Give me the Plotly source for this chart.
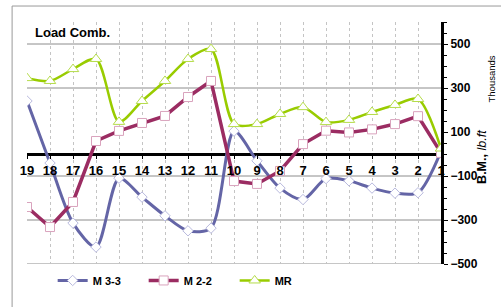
import plotly.graph_objects as go

# ---- data (values in thousands of lb.ft) ----
categories = ["19", "18", "17", "16", "15", "14", "13", "12", "11", "10",
              "9", "8", "7", "6", "5", "4", "3", "2", "1"]
m33 = [241, -41, -314, -423, -110, -196, -281, -349, -337, 104,
       -31, -155, -207, -112, -122, -155, -178, -176, 12]
m22 = [-241, -332, -218, 59, 105, 141, 173, 259, 332, -123,
       -136, -77, 45, 106, 98, 112, 136, 172, 5]
mr = [345, 332, 386, 432, 146, 241, 332, 432, 477, 136,
      136, 182, 213, 145, 155, 191, 223, 250, 25]

y_ticks = [-500, -300, -100, 100, 300, 500]
grid_values = [500, 300, -100, -300, -500]
y_range = [-500, 600]

FONT = "Liberation Sans, Arial, sans-serif"
xs = list(range(len(categories)))

fig = go.Figure()
fig.add_trace(go.Scatter(
    x=xs, y=m33, name="M 3-3", mode="lines+markers",
    line=dict(color="#6465a6", width=3, shape="spline", smoothing=0.8),
    marker=dict(symbol="diamond", size=8, color="white",
                line=dict(color="#b9bade", width=1)),
))
fig.add_trace(go.Scatter(
    x=xs, y=m22, name="M 2-2", mode="lines+markers",
    line=dict(color="#9b2c62", width=3.5),
    marker=dict(symbol="square", size=9, color="white",
                line=dict(color="#d9a3bd", width=1)),
))
fig.add_trace(go.Scatter(
    x=xs, y=mr, name="MR", mode="lines+markers",
    line=dict(color="#99cc00", width=2.5, shape="spline", smoothing=0.8),
    marker=dict(symbol="triangle-up", size=10, color="white",
                line=dict(color="#b5dc4a", width=1)),
))

shapes = []
for g in grid_values:
    shapes.append(dict(type="line", xref="paper", yref="y", x0=0, x1=1,
                       y0=g, y1=g, line=dict(color="#8c8c8c", width=1),
                       layer="below"))
# outer frame
shapes.append(dict(type="rect", xref="paper", yref="paper",
                   x0=-0.036, x1=1.3, y0=-0.3, y1=1.066,
                   line=dict(color="#999999", width=1), layer="below"))

zero_pos = (0 - y_range[0]) / (y_range[1] - y_range[0])

fig.update_layout(
    width=501, height=307,
    margin=dict(l=27, r=60, t=22, b=42.5),
    paper_bgcolor="white", plot_bgcolor="white",
    font=dict(family=FONT, color="black"),
    showlegend=True,
    legend=dict(orientation="h", x=0.062, y=-0.068, xanchor="left",
                yanchor="middle", font=dict(size=11, weight=700),
                entrywidth=46, bgcolor="rgba(0,0,0,0)"),
    xaxis=dict(range=[0, len(categories) - 1], tickvals=xs,
               ticktext=categories, anchor="free", position=zero_pos,
               showgrid=True, gridcolor="#c4c4c4", griddash="dot",
               gridwidth=1, showline=False, zeroline=False,
               ticks="outside", ticklen=4, tickcolor="black",
               tickfont=dict(size=13, weight=700)),
    yaxis=dict(range=y_range, side="right", tickvals=y_ticks,
               showgrid=False, zeroline=True, zerolinecolor="black",
               zerolinewidth=3, showline=True, linecolor="black",
               linewidth=3, ticks="outside", ticklen=4, tickcolor="black",
               minor=dict(dtick=50, ticks="outside", ticklen=3,
                          tickcolor="black"),
               tickfont=dict(size=12, weight=700)),
    shapes=shapes,
    annotations=[
        dict(text="<b>Load Comb.</b>", xref="paper", yref="paper",
             x=0.0145, y=0.9546, xanchor="left", yanchor="middle",
             showarrow=False, font=dict(size=13)),
        dict(text="<b>B.M.,</b> <i>lb.ft</i>", xref="paper", yref="paper",
             x=1.121, y=0.443, textangle=-90, showarrow=False,
             font=dict(size=12.5)),
        dict(text="Thousands", xref="paper", yref="paper",
             x=1.139, y=0.868, textangle=-90, showarrow=False,
             font=dict(size=9.5)),
    ],
)

fig.write_html(
    "out.html",
    config={"displayModeBar": False},
    post_script="document.body.style.margin='0px';"
                "document.body.style.overflow='hidden';",
)
